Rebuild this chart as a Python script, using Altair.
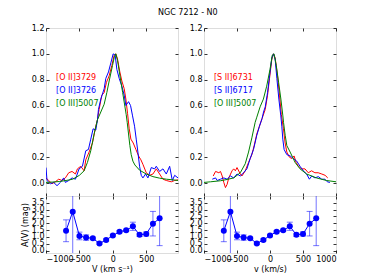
import altair as alt
import pandas as pd

# ---------------- data ----------------
# left panel: [O II]3729 (red)
v_o2_3729 = [-1000, -960, -910, -860, -810, -760, -710, -660, -610, -560, -530, -480, -430, -405, -355, -305,
             -255, -230, -205, -165, -130, -95, -55, -15, 20, 45, 70, 105, 135, 170, 195, 220, 245, 270, 305,
             345, 385, 420, 450, 500, 550, 600, 650, 700, 750, 800, 875, 925, 975]
f_o2_3729 = [0.04, 0.02, -0.005, 0.01, 0.03, 0.02, 0.04, 0.08, 0.09, 0.07, 0.11, 0.13, 0.095, 0.18, 0.24, 0.31,
             0.44, 0.49, 0.57, 0.68, 0.70, 0.78, 0.83, 0.91, 0.99, 1.0, 0.96, 0.86, 0.79, 0.73, 0.65, 0.54, 0.42,
             0.34, 0.31, 0.26, 0.21, 0.18, 0.145, 0.08, 0.06, 0.07, 0.11, 0.07, 0.03, 0.02, 0.01, 0.02, 0.025]
# left panel: [O II]3726 (blue)
v_o2_3726 = [-1000, -985, -935, -885, -835, -785, -735, -710, -660, -610, -560, -505, -455, -405, -365, -330,
             -295, -255, -230, -215, -180, -130, -105, -65, -30, 5, 35, 60, 95, 135, 170, 195, 235, 265, 295,
             325, 350, 375, 400, 425, 450, 490, 525, 575, 625, 650, 700, 750, 800, 850, 890, 925, 975]
f_o2_3726 = [0.12, 0.02, -0.005, 0.005, -0.02, 0.005, 0.04, 0.005, 0.02, 0.04, 0.03, 0.11, 0.13, 0.25, 0.26, 0.34,
             0.42, 0.41, 0.49, 0.57, 0.65, 0.73, 0.81, 0.86, 0.93, 1.0, 0.99, 0.88, 0.81, 0.75, 0.68, 0.60, 0.63,
             0.60, 0.52, 0.44, 0.34, 0.24, 0.13, 0.06, 0.04, 0.07, 0.04, 0.12, 0.11, 0.13, 0.09, 0.11, 0.07, 0.13,
             0.02, 0.06, 0.04]
# left panel: [O III]5007 (green)
v_o3_l = [-1000, -900, -800, -700, -600, -500, -430, -380, -330, -280, -230, -180, -130, -90, -55, -5, 20, 45,
          70, 97, 147, 200, 215, 235, 255, 275, 300, 330, 400, 500, 600, 700, 800, 900, 975]
f_o3_l = [0.005, 0.008, 0.012, 0.02, 0.03, 0.06, 0.095, 0.16, 0.25, 0.38, 0.49, 0.55, 0.61, 0.70, 0.79, 0.91,
          0.97, 1.0, 0.95, 0.86, 0.70, 0.53, 0.47, 0.38, 0.29, 0.22, 0.17, 0.14, 0.10, 0.07, 0.05, 0.038, 0.03,
          0.025, 0.02]
# right panel: [S II]6731 (red)
v_s2_6731 = [-860, -825, -775, -750, -725, -700, -675, -650, -625, -575, -550, -525, -500, -450, -425, -375,
             -325, -275, -240, -200, -160, -120, -72, -37, -7, 28, 53, 78, 114, 144, 172, 204, 229, 255, 295,
             330, 365, 395, 430, 480, 530, 580, 630, 680, 730, 785, 835, 875]
f_s2_6731 = [0.055, 0.09, 0.08, 0.09, 0.055, 0.005, -0.035, -0.01, 0.04, 0.095, 0.11, 0.095, 0.12, 0.07, 0.055,
             0.095, 0.16, 0.22, 0.29, 0.38, 0.44, 0.50, 0.57, 0.68, 0.81, 0.96, 1.0, 0.97, 0.83, 0.68, 0.53, 0.42,
             0.31, 0.24, 0.20, 0.19, 0.21, 0.16, 0.13, 0.11, 0.11, 0.08, 0.095, 0.08, 0.08, 0.07, 0.06, 0.04]
# right panel: [S II]6717 (blue)
v_s2_6717 = [-875, -825, -800, -750, -700, -650, -600, -550, -500, -450, -400, -350, -300, -250, -200, -160,
             -120, -98, -72, -37, -7, 28, 53, 78, 104, 134, 164, 179, 194, 214, 255, 305, 355, 405, 455, 505,
             555, 597, 632, 682, 732, 783, 833, 868, 908]
f_s2_6717 = [0.03, 0.04, 0.02, 0.03, 0.04, 0.03, 0.055, 0.04, 0.07, 0.055, 0.08, 0.11, 0.19, 0.26, 0.37, 0.44,
             0.50, 0.55, 0.59, 0.70, 0.83, 0.97, 1.0, 0.96, 0.81, 0.65, 0.52, 0.44, 0.34, 0.26, 0.22, 0.21, 0.19,
             0.17, 0.13, 0.095, 0.07, 0.03, 0.055, 0.04, 0.05, 0.03, 0.03, 0.01, 0.005]
# right panel: [O III]5007 (green)
v_o3_r = [-1000, -900, -750, -650, -550, -450, -375, -325, -275, -225, -200, -150, -100, -50, 0, 35, 60, 95,
          130, 165, 195, 205, 230, 255, 305, 380, 455, 555, 705, 855, 1000]
f_o3_r = [0.005, 0.01, 0.018, 0.028, 0.04, 0.08, 0.15, 0.24, 0.35, 0.47, 0.51, 0.59, 0.65, 0.75, 0.88, 0.99,
          1.0, 0.91, 0.78, 0.65, 0.52, 0.47, 0.37, 0.29, 0.24, 0.16, 0.11, 0.07, 0.04, 0.02, 0.01]

# extinction A(V) per velocity bin
vel_av = [-700, -600, -500, -400, -300, -200, -100, 0, 100, 200, 300, 400, 500, 600, 700]
av = [1.45, 2.85, 1.07, 0.95, 0.9, 0.52, 0.78, 1.1, 1.38, 1.48, 1.78, 1.15, 1.22, 1.97, 2.36]
av_err = [0.8, 3.1, 0.28, 0.2, 0.08, 0.07, 0.08, 0.08, 0.08, 0.08, 0.3, 0.12, 0.15, 0.9, 2.0]

labels_left = ["[O II]3729", "[O II]3726", "[O III]5007"]
labels_right = ["[S II]6731", "[S II]6717", "[O III]5007 "]
label_y = [0.8, 0.7, 0.6]
label_x = -850
line_colors = ["#ff0000", "#0000ff", "#008000"]

title_text = "NGC 7212 - N0"
xtitle_left = "V (km s\u207b\u00b9)"
xtitle_right = "v (km/s)"
ytitle_bottom = "A(V) (mag)"

FONT = "DejaVu Sans"
FS = 8
PW, TH, BH = 132, 168, 57

top_yvals = [0.0, 0.2, 0.4, 0.6, 0.8, 1.0, 1.2]
bot_yvals = [0.0, 0.5, 1.0, 1.5, 2.0, 2.5, 3.0, 3.5]


def series_df(pairs):
    rows = []
    for name, vs, fs in pairs:
        assert len(vs) == len(fs), name
        for i, (a, b) in enumerate(zip(vs, fs)):
            rows.append({"series": name, "v": a, "f": b, "i": i})
    return pd.DataFrame(rows)


def ax(orient, values, labels=True, title=None, fmt=None):
    kw = dict(orient=orient, values=values, labels=labels, offset=-3, tickSize=3,
              tickColor="#000", tickWidth=0.8, domain=False, grid=False,
              labelFont=FONT, labelFontSize=FS, labelColor="#000", labelPadding=2,
              labelOverlap=False, titleFont=FONT, titleFontSize=FS, titleFontWeight="normal",
              titleColor="#000")
    if fmt:
        kw["format"] = fmt
    if title is not None:
        kw["title"] = title
        kw["titlePadding"] = 2
    else:
        kw["title"] = None
    return alt.Axis(**kw)


def top_panel(pairs, labels, xdomain, xvals):
    df = series_df(pairs)
    names = [p[0] for p in pairs]
    xs = alt.Scale(domain=xdomain, nice=False, zero=False)
    ys = alt.Scale(domain=[-0.1, 1.2], nice=False, zero=False)
    color = alt.Color("series:N", scale=alt.Scale(domain=names, range=line_colors), legend=None)
    lines = alt.Chart(df).mark_line(strokeWidth=1, clip=True).encode(
        x=alt.X("v:Q", scale=xs, axis=ax("bottom", xvals, labels=False)),
        y=alt.Y("f:Q", scale=ys, axis=ax("left", top_yvals, fmt=".1f")),
        color=color, order="i:Q")
    ldf = pd.DataFrame({"series": labels, "x": [label_x] * 3, "y": label_y})
    text = alt.Chart(ldf).mark_text(align="left", baseline="alphabetic", font=FONT, fontSize=FS).encode(
        x=alt.X("x:Q", scale=xs, axis=None),
        y=alt.Y("y:Q", scale=ys, axis=None),
        text="series:N", color=color)
    ticks = alt.Chart(df).mark_line(opacity=0).encode(
        x=alt.X("v:Q", scale=xs, axis=ax("top", xvals, labels=False)),
        y=alt.Y("f:Q", scale=ys, axis=ax("right", top_yvals, labels=False)),
        detail="series:N")
    return alt.layer(lines, text, ticks).resolve_axis(x="independent", y="independent").properties(
        width=PW, height=TH)


def bottom_panel(xdomain, xvals, xtitle, ytitle):
    df = pd.DataFrame({"v": vel_av, "av": av, "err": av_err})
    xs = alt.Scale(domain=xdomain, nice=False, zero=False)
    ys = alt.Scale(domain=[-0.18, 4.0], nice=False, zero=False)
    base = alt.Chart(df).transform_calculate(lo="datum.av - datum.err", hi="datum.av + datum.err")
    X = alt.X("v:Q", scale=xs, axis=ax("bottom", xvals, title=xtitle, fmt="d"))
    if ytitle:
        Y = alt.Y("av:Q", scale=ys, axis=ax("left", bot_yvals, title=ytitle, fmt=".1f"))
    else:
        Y = alt.Y("av:Q", scale=ys, axis=ax("left", bot_yvals, fmt=".1f"))
    line = base.mark_line(color="#0000ff", strokeWidth=1, clip=True).encode(x=X, y=Y)
    bars = base.mark_rule(color="#0000ff", opacity=0.55, strokeWidth=1, clip=True).encode(
        x=alt.X("v:Q", scale=xs, axis=None),
        y=alt.Y("lo:Q", scale=ys, axis=None), y2="hi:Q")
    cap_lo = base.mark_tick(color="#0000ff", opacity=0.55, orient="horizontal", size=6, thickness=1,
                            clip=True).encode(
        x=alt.X("v:Q", scale=xs, axis=None), y=alt.Y("lo:Q", scale=ys, axis=None))
    cap_hi = base.mark_tick(color="#0000ff", opacity=0.55, orient="horizontal", size=6, thickness=1,
                            clip=True).encode(
        x=alt.X("v:Q", scale=xs, axis=None), y=alt.Y("hi:Q", scale=ys, axis=None))
    pts = base.mark_circle(color="#0000ff", size=36, opacity=1, clip=True).encode(
        x=alt.X("v:Q", scale=xs, axis=None), y=alt.Y("av:Q", scale=ys, axis=None))
    ticks = base.mark_line(opacity=0).encode(
        x=alt.X("v:Q", scale=xs, axis=ax("top", xvals, labels=False)),
        y=alt.Y("av:Q", scale=ys, axis=ax("right", bot_yvals, labels=False)))
    return alt.layer(line, bars, cap_lo, cap_hi, pts, ticks).resolve_axis(
        x="independent", y="independent").properties(width=PW, height=BH)


tl = top_panel([(labels_left[0], v_o2_3729, f_o2_3729), (labels_left[1], v_o2_3726, f_o2_3726),
                (labels_left[2], v_o3_l, f_o3_l)], labels_left, [-1000, 975], [-1000, -500, 0, 500])
tr = top_panel([(labels_right[0], v_s2_6731, f_s2_6731), (labels_right[1], v_s2_6717, f_s2_6717),
                (labels_right[2], v_o3_r, f_o3_r)], labels_right, [-1000, 1000],
               [-1000, -500, 0, 500, 1000])
bl = bottom_panel([-1000, 975], [-1000, -500, 0, 500], xtitle_left, ytitle_bottom)
br = bottom_panel([-1000, 1000], [-1000, -500, 0, 500, 1000], xtitle_right, None)

chart = alt.concat(tl, tr, bl, br, columns=2, spacing={"row": 0, "column": 26}, bounds="flush").properties(
    title=alt.TitleParams(title_text, font=FONT, fontSize=FS, fontWeight="normal", color="#000",
                          anchor="middle", dx=9, offset=7),
    padding={"left": 12, "top": 0, "right": 5, "bottom": 5},
).configure_view(stroke="#333", strokeWidth=1).configure(background="white")

chart.save("out.html", embed_options={"renderer": "svg", "actions": False})
